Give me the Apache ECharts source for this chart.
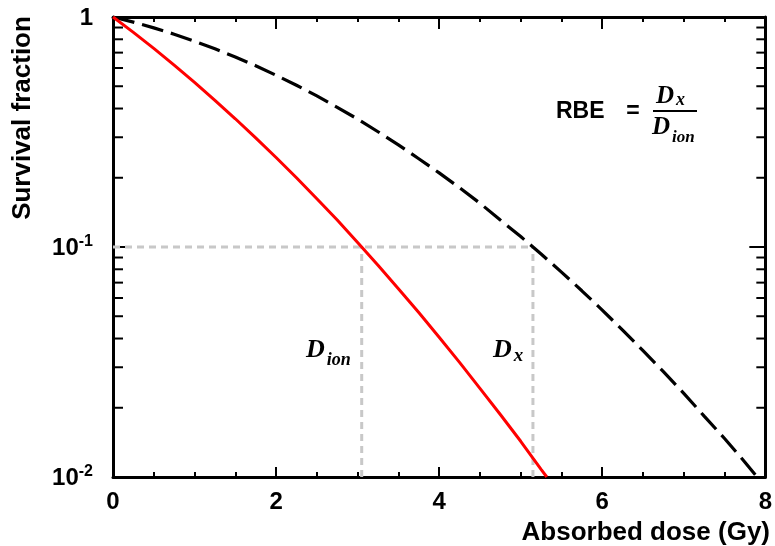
<!DOCTYPE html>
<html>
<head>
<meta charset="utf-8">
<script src="https://cdn.jsdelivr.net/npm/echarts@6/dist/echarts.min.js"></script>
<style>
html,body{margin:0;padding:0;background:#fff;}
#chart{width:775px;height:546px;}
</style>
</head>
<body>
<div id="chart"></div>
<script>
// Ion (red, solid) survival curve
const doseIon = [0, 0.25, 0.5, 0.75, 1.0, 1.25, 1.5, 1.75, 2.0, 2.25, 2.5, 2.75, 3.0, 3.25, 3.5, 3.75, 4.0, 4.25, 4.5, 4.75, 5.0, 5.25, 5.32];
const survivalIon = [1, 0.857, 0.730, 0.618, 0.520, 0.434, 0.361, 0.298, 0.245, 0.200, 0.162, 0.131, 0.1046, 0.0833, 0.0659, 0.0519, 0.0405, 0.0315, 0.0243, 0.0187, 0.0143, 0.0108, 0.0100];
// Reference X-ray (black, dashed) survival curve
const doseX = [0, 0.25, 0.5, 0.75, 1.0, 1.25, 1.5, 1.75, 2.0, 2.25, 2.5, 2.75, 3.0, 3.25, 3.5, 3.75, 4.0, 4.25, 4.5, 4.75, 5.0, 5.25, 5.5, 5.75, 6.0, 6.25, 6.5, 6.75, 7.0, 7.25, 7.5, 7.75, 7.9];
const survivalX = [1, 0.950, 0.897, 0.842, 0.785, 0.728, 0.670, 0.614, 0.558, 0.505, 0.454, 0.405, 0.360, 0.317, 0.278, 0.242, 0.210, 0.181, 0.155, 0.131, 0.111, 0.0932, 0.0778, 0.0645, 0.0532, 0.0435, 0.0354, 0.0287, 0.0231, 0.0184, 0.0147, 0.0116, 0.0100];
// Iso-effect construction
const isoSurvival = 0.1;
const dIon = 3.05;
const dXray = 5.15;
// Axes
const xTicks = [0, 2, 4, 6, 8];
const yMajorTicks = [0.01, 0.1, 1];
const yMinorTicks = [0.02,0.03,0.04,0.05,0.06,0.07,0.08,0.09,0.2,0.3,0.4,0.5,0.6,0.7,0.8,0.9];

const zip = (a, b) => a.map((v, i) => [v, b[i]]);
const FONT = '"Liberation Sans", Arial, sans-serif';
const SERIF = '"Liberation Serif", "Times New Roman", serif';
const X_MIN = xTicks[0], X_MAX = xTicks[xTicks.length - 1];

const chart = echarts.init(document.getElementById('chart'), null, {renderer: 'canvas'});

const baseX = {
  type: 'value', min: X_MIN, max: X_MAX, interval: 2,
  axisLine: {show: true, onZero: false, lineStyle: {color: '#000', width: 3}},
  axisTick: {show: true, inside: true, length: 10, lineStyle: {color: '#000', width: 2}},
  minorTick: {show: true, splitNumber: 4, length: 5, lineStyle: {color: '#000', width: 2}},
  splitLine: {show: false}, minorSplitLine: {show: false}
};
const baseY = {
  type: 'log', logBase: 10, min: 0.01, max: 1,
  axisLine: {show: true, onZero: false, lineStyle: {color: '#000', width: 3}},
  splitLine: {show: false}, axisLabel: {show: false}
};

const textGraphics = [
  {type: 'text', x: 23, y: 118, rotation: Math.PI / 2,
    style: {text: 'Survival fraction', align: 'center', verticalAlign: 'middle', fill: '#000', font: 'bold 26px ' + FONT}},
  {type: 'text', x: 770, y: 533,
    style: {text: 'Absorbed dose (Gy)', align: 'right', verticalAlign: 'middle', fill: '#000', font: 'bold 26px ' + FONT}},
  // RBE formula
  {type: 'text', x: 556, y: 112,
    style: {text: 'RBE', align: 'left', verticalAlign: 'middle', fill: '#000', font: 'bold 23px ' + FONT}},
  {type: 'text', x: 633, y: 112,
    style: {text: '=', align: 'center', verticalAlign: 'middle', fill: '#000', font: 'bold 23px ' + FONT}},
  {type: 'line', shape: {x1: 653, y1: 111, x2: 697, y2: 111}, style: {stroke: '#000', lineWidth: 2}},
  {type: 'text', x: 656, y: 97,
    style: {text: '{d|D}{s|x}', align: 'left', verticalAlign: 'middle',
      rich: {d: {font: 'italic bold 25px ' + SERIF, fill: '#000', verticalAlign: 'bottom'},
             s: {font: 'italic bold 18px ' + SERIF, fill: '#000', verticalAlign: 'bottom', padding: [0, 0, 0, 2]}}}},
  {type: 'text', x: 652, y: 128,
    style: {text: '{d|D}{s|ion}', align: 'left', verticalAlign: 'middle',
      rich: {d: {font: 'italic bold 25px ' + SERIF, fill: '#000', verticalAlign: 'bottom'},
             s: {font: 'italic bold 17px ' + SERIF, fill: '#000', verticalAlign: 'bottom', padding: [0, 0, -6, 2]}}}},
  // D labels
  {type: 'text', x: 306, y: 350,
    style: {text: '{d|D}{s|ion}', align: 'left', verticalAlign: 'middle',
      rich: {d: {font: 'italic bold 26px ' + SERIF, fill: '#000', verticalAlign: 'bottom'},
             s: {font: 'italic bold 18px ' + SERIF, fill: '#000', verticalAlign: 'bottom', padding: [0, 0, -6, 2]}}}},
  {type: 'text', x: 493, y: 350,
    style: {text: '{d|D}{s|x}', align: 'left', verticalAlign: 'middle',
      rich: {d: {font: 'italic bold 26px ' + SERIF, fill: '#000', verticalAlign: 'bottom'},
             s: {font: 'italic bold 19px ' + SERIF, fill: '#000', verticalAlign: 'bottom', padding: [0, 0, -3, 2]}}}}
];

const option = {
  backgroundColor: '#fff',
  animation: false,
  grid: {left: 113, right: 7, top: 17, bottom: 69, containLabel: false},
  xAxis: [
    Object.assign({}, baseX, {
      position: 'bottom',
      axisLabel: {show: true, margin: 13, color: '#000', fontFamily: FONT, fontWeight: 'bold', fontSize: 24}
    }),
    Object.assign({}, baseX, {
      position: 'top',
      axisTick: {show: true, inside: true, length: 12, lineStyle: {color: '#000', width: 2}},
      axisLabel: {show: false}
    })
  ],
  yAxis: [
    Object.assign({}, baseY, {
      position: 'left',
      axisTick: {show: true, inside: true, length: 13, customValues: yMajorTicks, lineStyle: {color: '#000', width: 2}},
      axisLabel: {
        show: true, margin: 20, customValues: yMajorTicks,
        formatter: function (v) {
          if (Math.abs(v - 1) < 1e-9) return '{n|1}';
          const e = Math.round(Math.log10(v));
          return '{n|10}{s|' + e + '}';
        },
        rich: {
          n: {fontFamily: FONT, fontWeight: 'bold', fontSize: 24, color: '#000', verticalAlign: 'bottom', lineHeight: 26},
          s: {fontFamily: FONT, fontWeight: 'bold', fontSize: 16, color: '#000', verticalAlign: 'top', lineHeight: 26, padding: [0, 0, 12, 0]}
        }
      }
    }),
    Object.assign({}, baseY, {
      position: 'right',
      axisTick: {show: true, inside: true, length: 16, customValues: yMajorTicks, lineStyle: {color: '#000', width: 2}}
    })
  ],
  series: [
    {
      name: 'iso-level', type: 'line', xAxisIndex: 0, yAxisIndex: 0, z: 1,
      data: [[X_MIN, isoSurvival], [dXray, isoSurvival]],
      showSymbol: false, symbol: 'none',
      lineStyle: {color: '#c8c8c8', width: 3, type: [7, 5]}
    },
    {
      name: 'D_ion', type: 'line', xAxisIndex: 0, yAxisIndex: 0, z: 1,
      data: [[dIon, yMajorTicks[0]], [dIon, isoSurvival]],
      showSymbol: false, symbol: 'none',
      lineStyle: {color: '#c8c8c8', width: 3, type: [7, 5]}
    },
    {
      name: 'D_x', type: 'line', xAxisIndex: 0, yAxisIndex: 0, z: 1,
      data: [[dXray, yMajorTicks[0]], [dXray, isoSurvival]],
      showSymbol: false, symbol: 'none',
      lineStyle: {color: '#c8c8c8', width: 3, type: [7, 5]}
    },
    {
      name: 'X-ray', type: 'line', xAxisIndex: 0, yAxisIndex: 0, z: 3,
      data: zip(doseX, survivalX), showSymbol: false, symbol: 'none', smooth: false,
      lineStyle: {color: '#000', width: 3.2, type: [22, 8]}
    },
    {
      name: 'Ion', type: 'line', xAxisIndex: 0, yAxisIndex: 0, z: 4,
      data: zip(doseIon, survivalIon), showSymbol: false, symbol: 'none', smooth: false,
      lineStyle: {color: '#ff0000', width: 3}
    }
  ],
  graphic: textGraphics
};
chart.setOption(option);

// Minor log ticks (2..9 per decade) on both vertical frame sides, placed through the chart's own scales
const tickGraphics = [];
yMinorTicks.forEach(function (v) {
  const pL = chart.convertToPixel({xAxisIndex: 0, yAxisIndex: 0}, [X_MIN, v]);
  const pR = chart.convertToPixel({xAxisIndex: 0, yAxisIndex: 0}, [X_MAX, v]);
  tickGraphics.push({type: 'line', z: 10, shape: {x1: pL[0], y1: pL[1], x2: pL[0] + 10, y2: pL[1]}, style: {stroke: '#000', lineWidth: 2}});
  tickGraphics.push({type: 'line', z: 10, shape: {x1: pR[0], y1: pR[1], x2: pR[0] - 9, y2: pR[1]}, style: {stroke: '#000', lineWidth: 2}});
});
chart.setOption({graphic: textGraphics.concat(tickGraphics)});
</script>
</body>
</html>
